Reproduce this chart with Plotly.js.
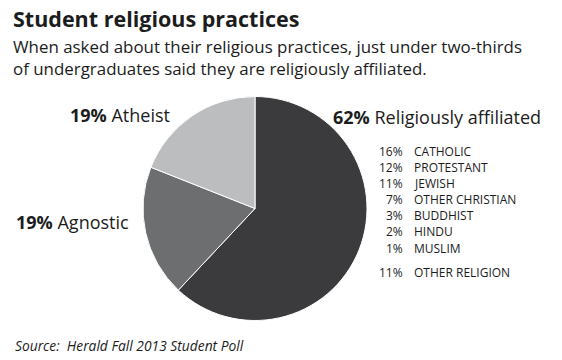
<!DOCTYPE html>
<html>
<head>
<meta charset="utf-8">
<script src="https://cdn.plot.ly/plotly-3.0.1.min.js"></script>
<style>
  html, body { margin: 0; padding: 0; background: #ffffff; }
  #chart { width: 562px; height: 360px; }
</style>
</head>
<body>
<div id="chart"></div>
<script>
// ---- Data ----
const mainLabels = ["Religiously affiliated", "Agnostic", "Atheist"];
const mainValues = [62, 19, 19];
const subLabels = ["CATHOLIC", "PROTESTANT", "JEWISH", "OTHER CHRISTIAN", "BUDDHIST", "HINDU", "MUSLIM", "OTHER RELIGION"];
const subValues = [16, 12, 11, 7, 3, 2, 1, 11];
const titleText = "Student religious practices";
const subtitleText = "When asked about their religious practices, just under two-thirds<br>of undergraduates said they are religiously affiliated.";
const sourceText = "Source:  Herald Fall 2013 Student Poll";

// ---- Styling ----
const W = 562, H = 360;
const FONT = "Open Sans, Noto Sans, DejaVu Sans, sans-serif";
const INK = "#1c1c1c";
const sliceColors = ["#3b3b3d", "#6d6e70", "#bcbdbf"];

const px = x => x / W;
const py = y => 1 - y / H;

const cx = 255, cy = 208.5, r = 112;

const trace = {
  type: "pie",
  values: mainValues,
  labels: mainLabels,
  sort: false,
  direction: "clockwise",
  rotation: 0,
  textinfo: "none",
  hoverinfo: "skip",
  showlegend: false,
  marker: { colors: sliceColors, line: { color: "#ffffff", width: 1 } },
  domain: { x: [px(cx - r), px(cx + r)], y: [py(cy + r), py(cy - r)] }
};

function ann(text, x, y, size, opts) {
  return Object.assign({
    text: text, x: px(x), y: py(y), xref: "paper", yref: "paper",
    xanchor: "left", yanchor: "middle", showarrow: false,
    borderpad: 0, borderwidth: 0,
    font: { family: FONT, size: size, color: INK }
  }, opts || {});
}

const annotations = [];
annotations.push(ann(subtitleText, 13, 57, 16.9, { align: "left" }));
annotations.push(ann("<b>" + mainValues[0] + "%</b> " + mainLabels[0], 333, 117, 18));
annotations.push(ann("<b>" + mainValues[2] + "%</b> " + mainLabels[2], 70, 114.5, 18));
annotations.push(ann("<b>" + mainValues[1] + "%</b> " + mainLabels[1], 16, 221.5, 18));

let yy = 151;
subLabels.forEach((lab, i) => {
  if (i === subLabels.length - 1) yy += 8;
  annotations.push(ann(subValues[i] + "%", 403, yy, 12, { xanchor: "right" }));
  annotations.push(ann(lab, 414, yy, 12));
  yy += 16.2;
});

annotations.push(ann("<i>" + sourceText + "</i>", 15, 345, 13.8));

const layout = {
  width: W, height: H,
  margin: { l: 0, r: 0, t: 0, b: 0 },
  paper_bgcolor: "#ffffff",
  plot_bgcolor: "#ffffff",
  title: {
    text: "<b>" + titleText + "</b>",
    x: px(13), xanchor: "left", xref: "paper",
    y: py(19.2), yanchor: "middle", yref: "paper",
    font: { family: FONT, size: 21.5, color: INK }
  },
  annotations: annotations
};

Plotly.newPlot("chart", [trace], layout, { staticPlot: true, displayModeBar: false });
</script>
</body>
</html>
